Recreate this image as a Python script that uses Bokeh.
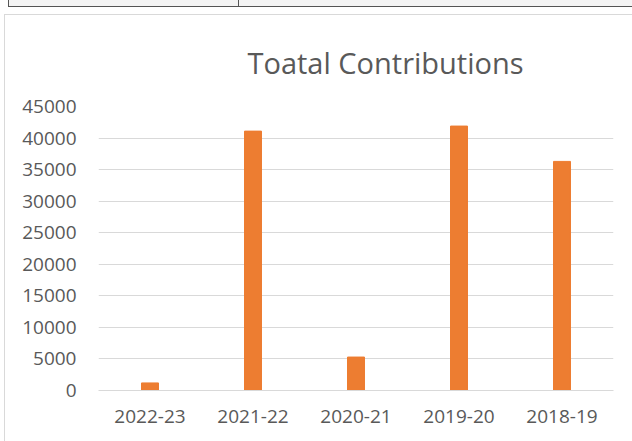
from bokeh.plotting import figure
from bokeh.models import FixedTicker, NumeralTickFormatter, Range1d
from bokeh.embed import file_html
from bokeh.resources import INLINE

years = ["2022-23", "2021-22", "2020-21", "2019-20", "2018-19"]
contributions = [1200, 41100, 5300, 41900, 36300]
y_ticks = [0, 5000, 10000, 15000, 20000, 25000, 30000, 35000, 40000, 45000]

FONT = "Open Sans"
TEXT = "#595959"
GRID = "#d9d9d9"
ORANGE = "#ED7D31"

p = figure(
    x_range=years,
    y_range=Range1d(0, 45000),
    width=632, height=441,
    output_backend="svg", toolbar_location=None,
    min_border_left=98, min_border_right=19,
    min_border_top=106, min_border_bottom=51,
    title="Toatal Contributions",
)
# page decoration: clipped table row at top and the chart-area border
bg_layers = [
    "linear-gradient(#555,#555) 238px 0px / 1px 6px no-repeat",
    "linear-gradient(#555,#555) 8px 0px / 1px 7px no-repeat",
    "linear-gradient(#555,#555) 8px 6px / 624px 1px no-repeat",
    "linear-gradient(#f4f4f4,#f4f4f4) 9px 0px / 623px 6px no-repeat",
    "linear-gradient(#d9d9d9,#d9d9d9) 4px 14px / 628px 1px no-repeat",
    "linear-gradient(#d9d9d9,#d9d9d9) 4px 14px / 1px 427px no-repeat",
    "#ffffff",
]
p.styles = {"position": "fixed", "left": "0px", "top": "0px",
            "background": ", ".join(bg_layers)}
p.border_fill_alpha = 0

p.vbar(x=years, top=contributions, width=0.165, color=ORANGE)

p.title.text_font = FONT
p.title.text_font_size = "29px"
p.title.text_font_style = "normal"
p.title.text_color = TEXT
p.title.align = "left"
p.title.offset = 149
p.title.standoff = 50

p.outline_line_color = None
p.xgrid.grid_line_color = None
p.ygrid.grid_line_color = GRID
p.ygrid.grid_line_width = 1

p.yaxis.ticker = FixedTicker(ticks=y_ticks)
p.yaxis.formatter = NumeralTickFormatter(format="0")
p.yaxis.axis_line_color = None
p.yaxis.major_tick_line_color = None
p.yaxis.minor_tick_line_color = None
p.yaxis.major_label_standoff = 16
p.yaxis.major_label_text_font = FONT
p.yaxis.major_label_text_font_size = "19px"
p.yaxis.major_label_text_color = TEXT

p.xaxis.axis_line_color = GRID
p.xaxis.major_tick_line_color = None
p.xaxis.minor_tick_line_color = None
p.xaxis.major_label_standoff = 13
p.xaxis.major_label_text_font = FONT
p.xaxis.major_label_text_font_size = "19px"
p.xaxis.major_label_text_color = TEXT

open("out.html", "w").write(file_html(p, INLINE))
